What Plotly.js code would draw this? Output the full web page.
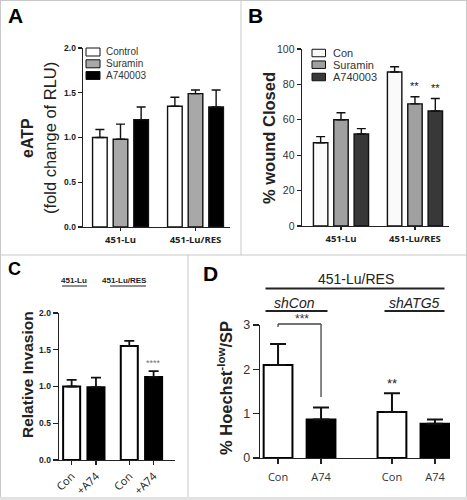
<!DOCTYPE html>
<html><head><meta charset="utf-8">
<script src="https://cdn.plot.ly/plotly-3.0.1.min.js"></script>
<style>html,body{margin:0;padding:0;background:#fff}#chart{width:467px;height:500px}</style>
</head><body><div id="chart"></div>
<script>
// ---------------- DATA ----------------
// Panel A: eATP (fold change of RLU)
const aGroups = ['451-Lu', '451-Lu/RES'];
const aSeries = ['Control', 'Suramin', 'A740003'];
const aControl = [1.00, 1.35];
const aControlErr = [0.09, 0.10];
const aSuramin = [0.98, 1.49];
const aSuraminErr = [0.17, 0.04];
const aA740003 = [1.20, 1.34];
const aA740003Err = [0.14, 0.19];

// Panel B: % wound closed
const bGroups = ['451-Lu', '451-Lu/RES'];
const bSeries = ['Con', 'Suramin', 'A740003'];
const bCon = [47, 87];
const bConErr = [3.5, 3];
const bSuramin = [60, 69];
const bSuraminErr = [4, 4];
const bA740003 = [52, 65];
const bA740003Err = [3, 7];
const bSuraminSig = ['', '**'];
const bA740003Sig = ['', '**'];

// Panel C: relative invasion
const cGroups = ['451-Lu', '451-Lu/RES'];
const cTreat = ['Con', '+A74'];
const cCon = [1.00, 1.55];
const cConErr = [0.09, 0.07];
const cA74 = [0.99, 1.13];
const cA74Err = [0.13, 0.08];
const cA74Sig = ['', '****'];

// Panel D: % Hoechst-low / SP in 451-Lu/RES
const dGroups = ['shCon', 'shATG5'];
const dTreat = ['Con', 'A74'];
const dCon = [2.10, 1.04];
const dConErr = [0.47, 0.42];
const dA74 = [0.87, 0.77];
const dA74Err = [0.27, 0.10];
const dConSig = ['', '**'];

// ---------------- LAYOUT HELPERS ----------------
const W = 467, H = 500;
const X = p => p / W, Y = p => 1 - p / H;
const ARIAL = '"Liberation Sans", Arial, sans-serif';
const CAL = '"Open Sans", sans-serif';
const INK = '#222';

function errUp(arr, thick, w) {
  return {type: 'data', symmetric: false, array: arr, arrayminus: arr.map(() => 0),
          color: '#111', thickness: thick, width: w};
}

// grouped bars (A, B) on category axes
const gOff = [-0.3725, -0.0975, 0.1775], gW = 0.195;
const gCenter = gOff.map(o => o + gW / 2);

function grouped(groups, series, vals, errs, colors, xa, ya) {
  return series.map((name, i) => ({
    type: 'bar', name, x: groups, y: vals[i], xaxis: xa, yaxis: ya,
    offset: gOff[i], width: gW,
    marker: {color: colors[i], line: {color: '#111', width: 1.4}},
    error_y: errUp(errs[i], 1.4, 4.5), showlegend: false, hoverinfo: 'skip'
  }));
}

// paired bars (C, D) on linear axes: position = group*step + treatment index
const cStep = 2.37, dStep = 2.65;
const pos = (groups, step, j) => groups.map((g, i) => i * step + j);

const traces = [
  ...grouped(aGroups, aSeries, [aControl, aSuramin, aA740003],
             [aControlErr, aSuraminErr, aA740003Err], ['#ffffff', '#a8a8a8', '#000000'], 'x', 'y'),
  ...grouped(bGroups, bSeries, [bCon, bSuramin, bA740003],
             [bConErr, bSuraminErr, bA740003Err], ['#fafafa', '#a0a0a0', '#383838'], 'x2', 'y2'),
  {type: 'bar', name: cTreat[0], x: pos(cGroups, cStep, 0), y: cCon, xaxis: 'x3', yaxis: 'y3', width: 0.7,
   marker: {color: '#fff', line: {color: '#000', width: 2}}, error_y: errUp(cConErr, 1.8, 5),
   showlegend: false, hoverinfo: 'skip'},
  {type: 'bar', name: cTreat[1], x: pos(cGroups, cStep, 1), y: cA74, xaxis: 'x3', yaxis: 'y3', width: 0.7,
   marker: {color: '#000', line: {color: '#000', width: 2}}, error_y: errUp(cA74Err, 1.8, 5),
   showlegend: false, hoverinfo: 'skip'},
  {type: 'bar', name: dTreat[0], x: pos(dGroups, dStep, 0), y: dCon, xaxis: 'x4', yaxis: 'y4', width: 0.67,
   marker: {color: '#fff', line: {color: '#000', width: 2}}, error_y: errUp(dConErr, 2, 8),
   showlegend: false, hoverinfo: 'skip'},
  {type: 'bar', name: dTreat[1], x: pos(dGroups, dStep, 1), y: dA74, xaxis: 'x4', yaxis: 'y4', width: 0.67,
   marker: {color: '#000', line: {color: '#000', width: 2}}, error_y: errUp(dA74Err, 2, 8),
   showlegend: false, hoverinfo: 'skip'}
];

const axBase = {showgrid: false, zeroline: false, showline: true, linecolor: INK, linewidth: 1.4,
                ticks: 'outside', tickcolor: INK, tickwidth: 1.2, fixedrange: true};

const layout = {
  width: W, height: H, margin: {l: 0, r: 0, t: 0, b: 0},
  paper_bgcolor: '#fff', plot_bgcolor: 'rgba(0,0,0,0)',
  barmode: 'overlay', showlegend: false,
  xaxis: {...axBase, domain: [X(83), X(230)], anchor: 'y', type: 'category', range: [-0.5, 1.46],
          ticklen: 3, tickfont: {family: CAL, size: 9.5, weight: 'bold', color: INK}},
  yaxis: {...axBase, domain: [Y(227), Y(48)], anchor: 'x', range: [0, 2], dtick: 0.5, tickformat: '.1f',
          ticklen: 4, tickfont: {family: ARIAL, size: 8.5, weight: 'bold', color: INK}},
  xaxis2: {...axBase, domain: [X(302), X(449)], anchor: 'y2', type: 'category', range: [-0.527, 1.46],
           ticklen: 3, tickfont: {family: CAL, size: 9.5, weight: 'bold', color: INK}},
  yaxis2: {...axBase, domain: [Y(226), Y(49)], anchor: 'x2', range: [0, 100], dtick: 20,
           ticklen: 4, tickfont: {family: ARIAL, size: 10.5, color: '#333'}},
  xaxis3: {...axBase, domain: [X(59), X(175)], anchor: 'y3', range: [-0.52, 4.25],
           tickmode: 'array', tickvals: [...pos(cGroups, cStep, 0), ...pos(cGroups, cStep, 1)],
           ticktext: [...cGroups.map(() => cTreat[0]), ...cGroups.map(() => cTreat[1])],
           tickangle: -45, ticklen: 4, tickfont: {family: CAL, size: 11, color: INK}},
  yaxis3: {...axBase, domain: [Y(460), Y(313)], anchor: 'x3', range: [0, 2], dtick: 0.5, tickformat: '.1f',
           ticklen: 5, tickfont: {family: ARIAL, size: 8.5, weight: 'bold', color: INK}},
  xaxis4: {...axBase, domain: [X(260), X(450)], anchor: 'y4', range: [-0.42, 4.0],
           tickmode: 'array', tickvals: [...pos(dGroups, dStep, 0), ...pos(dGroups, dStep, 1)],
           ticktext: [...dGroups.map(() => dTreat[0]), ...dGroups.map(() => dTreat[1])],
           ticklen: 5, ticklabelstandoff: 3, tickfont: {family: CAL, size: 11, color: '#333'}},
  yaxis4: {...axBase, domain: [Y(458), Y(325)], anchor: 'x4', range: [0, 3], dtick: 1,
           ticklen: 6, tickfont: {family: ARIAL, size: 12.5, color: '#333'}},
  shapes: [],
  annotations: []
};

const S = layout.shapes, A = layout.annotations;
const grey = '#c8c8c8';
const pline = (x0, y0, x1, y1, color, width) => S.push({type: 'line', xref: 'paper', yref: 'paper',
  x0: X(x0), y0: Y(y0), x1: X(x1), y1: Y(y1), line: {color, width}});
// panel frames
pline(0.5, 0, 0.5, 497, grey, 1);
pline(466.5, 0, 466.5, 497, grey, 1);
pline(0, 0.5, 467, 0.5, grey, 1);
pline(241, 0, 241, 255, grey, 1);
pline(0, 255, 467, 255, grey, 1);
pline(188, 255, 188, 497, grey, 1);
S.push({type: 'rect', xref: 'paper', yref: 'paper', x0: 0, x1: 1, y0: Y(500), y1: Y(497),
        fillcolor: '#e2e2e2', line: {width: 0}});

const txt = (x, y, text, size, opts = {}) => A.push(Object.assign({
  xref: 'paper', yref: 'paper', x: X(x), y: Y(y), text, showarrow: false,
  xanchor: 'center', yanchor: 'middle', font: {family: ARIAL, size, color: INK}}, opts));

// panel letters
txt(6, 15, '<b>A</b>', 21, {xanchor: 'left', font: {family: ARIAL, size: 21, color: '#000'}});
txt(246, 15, '<b>B</b>', 21, {xanchor: 'left', font: {family: ARIAL, size: 21, color: '#000'}});
txt(6, 269, '<b>C</b>', 18, {xanchor: 'left', font: {family: ARIAL, size: 18, color: '#000'}});
txt(201, 273, '<b>D</b>', 21, {xanchor: 'left', font: {family: ARIAL, size: 21, color: '#000'}});

// y titles
txt(27, 138, '<b>eATP</b>', 16, {textangle: -90});
txt(50, 138, '(fold change of RLU)', 16.5, {textangle: -90});
txt(269, 138, '<b>% wound Closed</b>', 16.5, {textangle: -90});
txt(27, 375, '<b>Relative Invasion</b>', 15.5, {textangle: -90});
txt(225, 388, '<b>% Hoechst<sup>-low</sup>/SP</b>', 16.5, {textangle: -90});

// legends A and B
const legA = {x: 86, w: 14, rows: [52, 63.8, 75.5], h: 8, fills: ['#ffffff', '#a8a8a8', '#000000'], tx: 104, size: 10};
const legB = {x: 312, w: 13.5, rows: [53, 64.7, 77], h: 7.5, fills: ['#fafafa', '#a0a0a0', '#383838'], tx: 331, size: 11};
[[legA, aSeries], [legB, bSeries]].forEach(([L, names]) => {
  names.forEach((n, i) => {
    S.push({type: 'rect', xref: 'paper', yref: 'paper', x0: X(L.x), x1: X(L.x + L.w),
            y0: Y(L.rows[i] + L.h / 2), y1: Y(L.rows[i] - L.h / 2),
            fillcolor: L.fills[i], line: {color: '#111', width: 1}});
    txt(L.tx, L.rows[i], n, L.size, {xanchor: 'left', font: {family: ARIAL, size: L.size, color: '#333'}});
  });
});

// B significance marks
[[bSuramin, bSuraminErr, bSuraminSig, 1], [bA740003, bA740003Err, bA740003Sig, 2]].forEach(([v, e, s, k]) => {
  s.forEach((m, i) => { if (m) A.push({xref: 'x2', yref: 'y2', x: i + gCenter[k], y: v[i] + e[i] + 6,
    text: m, showarrow: false, xanchor: 'center', yanchor: 'middle', font: {family: ARIAL, size: 11, color: '#111'}}); });
});

// C headers (underlined) and significance
txt(74, 280, '451-Lu', 8, {font: {family: ARIAL, size: 8, weight: 'bold', color: INK}});
txt(124, 280, '451-Lu/RES', 8, {font: {family: ARIAL, size: 8, weight: 'bold', color: INK}});
pline(62, 286, 87, 286, INK, 1);
pline(110, 286, 146, 286, INK, 1);
cA74Sig.forEach((m, i) => { if (m) A.push({xref: 'x3', yref: 'y3', x: i * cStep + 1, y: cA74[i] + cA74Err[i] + 0.11,
  text: m, showarrow: false, xanchor: 'center', yanchor: 'middle', font: {family: ARIAL, size: 9, color: '#777'}}); });

// D headers
txt(356, 279, '451-Lu/RES', 14, {font: {family: ARIAL, size: 14, color: INK}});
pline(265.5, 288.5, 444.5, 288.5, INK, 1.8);
txt(294, 303, '<i>shCon</i>', 14, {font: {family: ARIAL, size: 14, color: INK}});
txt(414, 303, '<i>shATG5</i>', 14, {font: {family: ARIAL, size: 14, color: INK}});
pline(265.5, 311, 327.5, 311, INK, 1.8);
pline(384.5, 311, 444.5, 311, INK, 1.8);
// D bracket (x in data units, y in paper)
const bx = (x0, y0, x1, y1) => S.push({type: 'line', xref: 'x4', yref: 'paper', x0, x1, y0: Y(y0), y1: Y(y1),
  line: {color: '#444', width: 1.3}});
bx(0, 324, 1, 324);
bx(0, 324, 0, 327);
bx(1, 324, 1, 397);
A.push({xref: 'x4', yref: 'paper', x: 0.56, y: Y(318.5), text: '***', showarrow: false,
        xanchor: 'center', yanchor: 'middle', font: {family: ARIAL, size: 12, color: '#333'}});
dConSig.forEach((m, i) => { if (m) A.push({xref: 'x4', yref: 'y4', x: i * dStep, y: dCon[i] + dConErr[i] + 0.23,
  text: m, showarrow: false, xanchor: 'center', yanchor: 'middle', font: {family: ARIAL, size: 13, color: '#222'}}); });

Plotly.newPlot('chart', traces, layout, {staticPlot: true, displayModeBar: false});
</script>
</body></html>
